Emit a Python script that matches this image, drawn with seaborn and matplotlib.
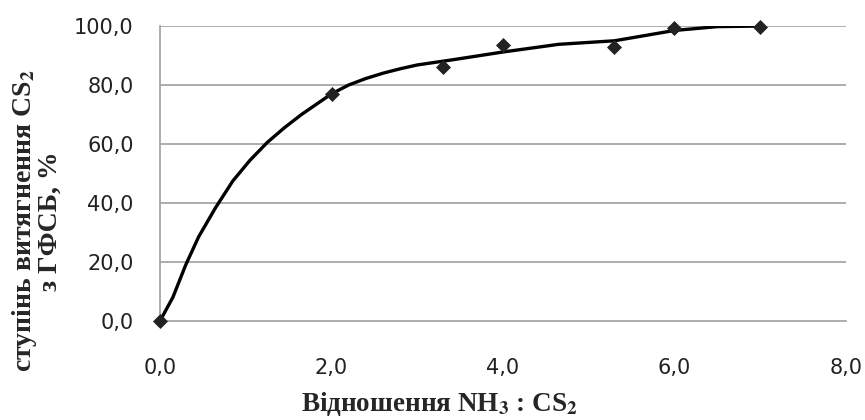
import seaborn as sns
import pandas as pd
from matplotlib import pyplot as plt

# measured points
ratio = [0.0, 2.0, 3.3, 4.0, 5.3, 6.0, 7.0]
degree = [0.0, 77.0, 86.0, 93.6, 93.0, 99.4, 99.8]

# smoothed trend curve
curve_x = [0.0, 0.15, 0.3, 0.45, 0.65, 0.85, 1.05, 1.25, 1.45, 1.65, 1.85, 2.0,
           2.2, 2.4, 2.6, 2.8, 3.0, 3.4, 4.0, 4.65, 5.3, 6.0, 6.5, 7.0]
curve_y = [0.0, 8.0, 19.0, 28.5, 38.5, 47.5, 54.5, 60.5, 65.5, 70.0, 74.0, 77.0,
           80.0, 82.2, 84.0, 85.5, 86.8, 88.5, 91.2, 93.8, 95.0, 98.5, 99.8, 100.0]

x_ticks = [0, 2, 4, 6, 8]
y_ticks = [0, 20, 40, 60, 80, 100]

sns.set_style("white")
plt.rcParams['font.family'] = ['DejaVu Sans']
plt.rcParams['mathtext.fontset'] = 'stix'

pts = pd.DataFrame({"x": ratio, "y": degree})
fit = pd.DataFrame({"x": curve_x, "y": curve_y})

fig = plt.figure(figsize=(8.65, 4.2), dpi=100)
ax = fig.add_axes([0.185, 0.236, 0.793, 0.702])

grid_c = "#a6a6a6"
for v in y_ticks[1:]:
    ax.axhline(v, color=grid_c, lw=1.3, zorder=0)

sns.lineplot(data=fit, x="x", y="y", color="black", lw=2.4, ax=ax, zorder=3)
sns.scatterplot(data=pts, x="x", y="y", marker="D", s=50, color="#222222",
                edgecolor="#222222", ax=ax, zorder=4)

ax.set_xlim(0, 8)
ax.set_ylim(0, 100)
ax.set_xticks(x_ticks)
ax.set_yticks(y_ticks)
ax.set_xticklabels([f"{v:.1f}".replace(".", ",") for v in x_ticks])
ax.set_yticklabels([f"{v:.1f}".replace(".", ",") for v in y_ticks])
ax.tick_params(axis="x", length=6, width=1.2, color=grid_c, pad=21,
               labelsize=15, labelcolor="#222222", direction="out")
ax.tick_params(axis="y", length=7, width=1.2, color=grid_c, pad=12,
               labelsize=15, labelcolor="#222222", direction="out")

for side in ["top", "right"]:
    ax.spines[side].set_visible(False)
ax.spines["left"].set_color(grid_c)
ax.spines["bottom"].set_color(grid_c)
ax.spines["left"].set_linewidth(1.3)
ax.spines["bottom"].set_linewidth(1.3)
for c in ax.collections:
    c.set_clip_on(False)

serif = ['Liberation Serif', 'DejaVu Serif']
ax.set_xlabel(r"Відношення NH$_\mathbf{3}$ : CS$_\mathbf{2}$", family=serif,
              fontweight="bold", fontsize=19.5)
ax.xaxis.set_label_coords(0.408, -0.235)
ax.set_ylabel("ступінь витягнення CS$_\\mathbf{2}$\nз ГФСБ, %", family=serif,
              fontweight="bold", fontsize=20, linespacing=0.95)
ax.yaxis.set_label_coords(-0.142, 0.339)

plt.savefig("out.png", dpi=100)
